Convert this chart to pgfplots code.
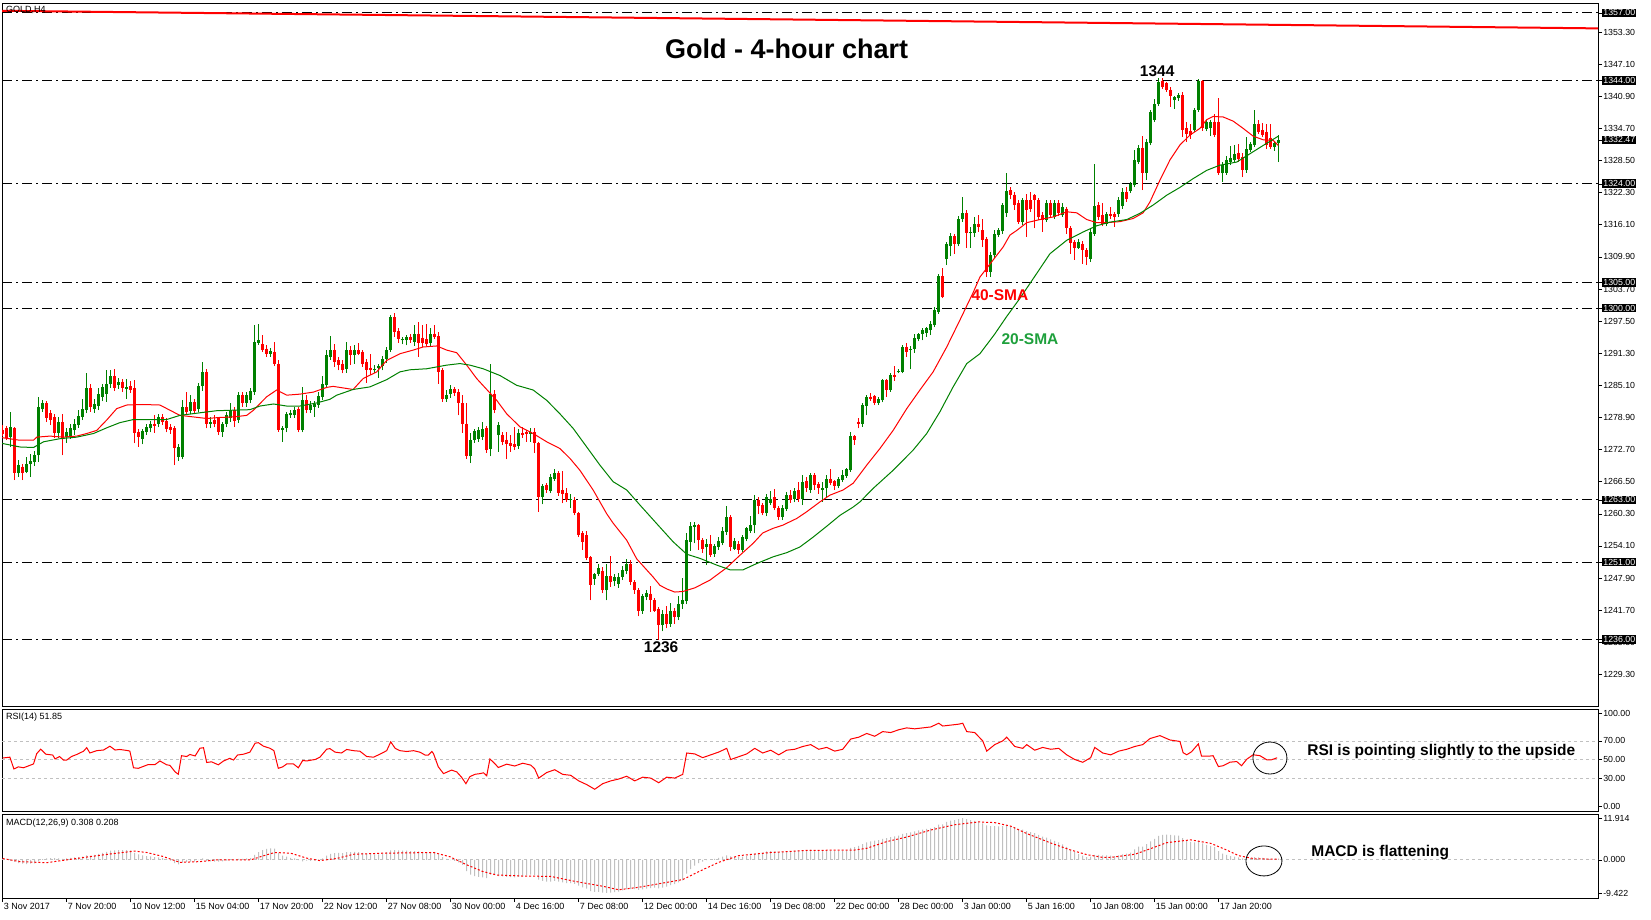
\documentclass[border=0pt]{standalone}
\usepackage{pgfplots}
\pgfplotsset{compat=1.18}
\usepackage{pgfplotstable}
\usepackage{fontspec}
\setmainfont{Liberation Sans}
\definecolor{cgreen}{RGB}{0,128,0}
\definecolor{lblgreen}{RGB}{30,160,60}
\definecolor{histgray}{RGB}{192,192,192}
\definecolor{dashgray}{RGB}{192,192,192}

\pgfplotstableread{
x o h l c
0 1276.5 1277.4 1275.3 1275.8
1 1276.9 1277.3 1274.5 1275.0
2 1275.1 1280.0 1273.2 1277.1
3 1276.9 1277.1 1266.8 1268.1
4 1268.1 1270.6 1267.4 1269.7
5 1269.4 1270.0 1266.8 1268.2
6 1268.4 1271.3 1268.1 1270.0
7 1270.0 1271.9 1267.4 1270.5
8 1270.3 1272.5 1269.5 1271.6
9 1271.6 1282.9 1270.3 1281.0
10 1280.6 1282.2 1280.0 1281.6
11 1281.6 1282.0 1278.0 1278.7
12 1279.7 1280.3 1277.4 1278.4
13 1278.9 1279.5 1275.0 1275.9
14 1275.9 1279.0 1275.0 1278.0
15 1278.0 1279.5 1271.6 1274.8
16 1275.1 1276.9 1274.0 1276.1
17 1275.3 1277.7 1274.8 1276.9
18 1276.4 1278.6 1275.6 1277.7
19 1277.4 1280.3 1276.9 1279.2
20 1279.0 1282.5 1278.4 1280.6
21 1280.3 1287.4 1279.7 1284.5
22 1284.6 1285.4 1280.0 1280.9
23 1280.5 1282.5 1279.8 1281.4
24 1281.1 1284.5 1280.3 1283.5
25 1282.9 1285.4 1282.0 1284.7
26 1283.5 1288.0 1281.9 1285.4
27 1285.3 1288.0 1284.6 1286.9
28 1286.9 1288.3 1284.0 1284.5
29 1285.1 1286.6 1284.4 1285.8
30 1285.8 1286.4 1283.8 1284.5
31 1284.4 1286.4 1282.5 1284.8
32 1284.9 1286.0 1283.6 1284.2
33 1284.6 1286.1 1273.9 1275.9
34 1276.1 1276.6 1273.2 1275.2
35 1274.8 1276.7 1273.7 1276.2
36 1276.1 1277.6 1275.6 1277.1
37 1276.8 1278.3 1276.0 1277.6
38 1277.7 1279.3 1275.9 1277.2
39 1277.7 1279.6 1277.0 1278.9
40 1279.0 1279.6 1277.4 1278.0
41 1278.2 1278.8 1276.0 1276.6
42 1277.1 1277.6 1275.8 1276.4
43 1276.8 1277.3 1269.7 1273.0
44 1271.3 1273.8 1270.5 1273.2
45 1271.3 1282.2 1270.8 1280.9
46 1280.9 1283.8 1279.3 1280.0
47 1280.2 1283.2 1279.5 1281.8
48 1281.8 1282.5 1279.5 1280.2
49 1280.6 1285.5 1280.0 1284.9
50 1284.9 1289.6 1284.0 1287.7
51 1287.7 1288.3 1276.8 1277.6
52 1277.6 1279.0 1276.8 1278.0
53 1278.5 1279.3 1277.0 1277.7
54 1278.7 1279.0 1275.5 1276.1
55 1276.1 1278.1 1275.2 1277.7
56 1277.7 1280.0 1277.0 1279.3
57 1278.7 1281.7 1278.1 1280.3
58 1280.3 1280.9 1277.1 1278.2
59 1278.4 1283.8 1277.8 1283.2
60 1283.3 1283.8 1281.0 1281.6
61 1281.7 1283.8 1281.0 1283.2
62 1282.2 1284.6 1281.6 1284.0
63 1283.8 1296.7 1283.3 1293.5
64 1293.3 1296.9 1292.9 1293.9
65 1293.0 1294.8 1291.5 1292.0
66 1292.2 1292.8 1290.6 1291.2
67 1291.2 1292.3 1290.6 1291.7
68 1291.6 1293.5 1288.8 1289.3
69 1289.3 1290.0 1276.1 1276.4
70 1276.5 1277.2 1274.2 1276.8
71 1276.8 1280.0 1276.0 1279.5
72 1279.3 1280.3 1278.8 1279.8
73 1279.3 1281.0 1278.8 1280.3
74 1280.6 1281.0 1276.0 1276.4
75 1276.4 1284.7 1276.0 1282.2
76 1282.3 1283.2 1279.7 1280.3
77 1280.4 1282.0 1279.8 1281.3
78 1281.0 1282.0 1279.0 1281.5
79 1281.3 1283.8 1280.8 1283.1
80 1282.9 1286.9 1282.3 1285.4
81 1285.1 1292.0 1284.6 1290.9
82 1290.6 1294.6 1290.0 1291.9
83 1292.0 1293.0 1288.6 1289.6
84 1289.9 1290.5 1288.0 1289.0
85 1289.3 1290.0 1287.4 1288.1
86 1288.3 1293.5 1287.5 1291.9
87 1291.9 1292.6 1289.0 1290.9
88 1291.0 1292.8 1289.3 1291.9
89 1291.9 1293.3 1290.9 1291.2
90 1291.6 1292.0 1288.7 1289.3
91 1289.6 1290.2 1285.6 1288.0
92 1288.5 1291.2 1287.0 1288.0
93 1288.0 1289.0 1287.5 1288.2
94 1288.5 1289.3 1286.6 1288.9
95 1288.8 1290.8 1288.0 1290.1
96 1290.1 1292.5 1289.5 1292.0
97 1292.0 1298.6 1291.5 1298.2
98 1298.2 1299.1 1294.5 1295.4
99 1295.6 1296.1 1293.3 1294.1
100 1293.8 1294.5 1293.0 1294.0
101 1293.8 1294.8 1292.8 1294.5
102 1294.5 1295.0 1293.3 1293.8
103 1293.5 1296.7 1292.7 1295.1
104 1295.1 1297.3 1290.6 1293.3
105 1294.3 1296.7 1292.5 1293.3
106 1294.0 1297.0 1292.6 1293.0
107 1293.2 1296.1 1292.6 1295.0
108 1295.1 1296.7 1294.0 1294.5
109 1294.6 1295.4 1285.4 1287.7
110 1288.0 1288.5 1281.9 1282.5
111 1282.4 1284.2 1281.9 1283.3
112 1283.4 1285.1 1282.7 1284.4
113 1284.4 1284.7 1283.0 1283.6
114 1283.8 1284.4 1279.3 1281.6
115 1281.6 1283.2 1275.9 1277.7
116 1277.7 1281.6 1270.9 1271.4
117 1271.4 1275.9 1270.1 1274.6
118 1274.6 1276.6 1274.0 1276.2
119 1274.8 1277.0 1274.2 1276.4
120 1275.2 1278.0 1274.5 1276.6
121 1276.8 1277.2 1272.1 1272.6
122 1272.9 1289.2 1271.4 1283.5
123 1283.5 1284.2 1279.7 1280.3
124 1275.5 1278.0 1272.3 1277.5
125 1275.5 1276.0 1273.5 1274.2
126 1274.6 1276.0 1270.8 1273.8
127 1273.9 1275.6 1272.3 1273.3
128 1273.7 1277.1 1272.6 1273.2
129 1273.4 1276.6 1272.8 1275.9
130 1275.9 1277.1 1275.0 1275.6
131 1276.0 1276.4 1274.2 1275.8
132 1275.8 1276.8 1274.2 1276.1
133 1276.1 1276.8 1272.0 1273.9
134 1273.9 1274.2 1260.7 1263.6
135 1263.6 1266.1 1262.1 1265.6
136 1265.8 1266.3 1264.3 1264.9
137 1264.7 1268.0 1264.3 1267.4
138 1267.1 1269.0 1266.6 1268.1
139 1268.1 1268.6 1263.8 1264.3
140 1264.8 1268.6 1262.3 1264.1
141 1264.3 1265.2 1262.6 1262.9
142 1262.9 1264.2 1261.5 1263.2
143 1262.9 1263.5 1260.0 1260.4
144 1260.4 1260.7 1255.8 1256.2
145 1256.5 1257.0 1253.4 1254.9
146 1256.2 1256.9 1251.3 1251.7
147 1251.9 1252.1 1243.6 1246.5
148 1247.8 1248.8 1246.6 1248.6
149 1248.7 1250.6 1248.3 1249.9
150 1249.3 1250.0 1245.0 1245.5
151 1245.5 1250.7 1243.6 1248.3
152 1248.3 1252.1 1246.2 1247.1
153 1247.3 1248.7 1246.3 1248.1
154 1246.8 1248.9 1246.0 1248.1
155 1248.1 1250.3 1247.5 1249.5
156 1249.3 1251.5 1248.6 1250.7
157 1250.7 1251.3 1246.6 1247.1
158 1247.1 1247.5 1244.9 1245.5
159 1245.6 1246.0 1240.5 1241.6
160 1241.6 1244.9 1241.0 1244.4
161 1244.2 1245.5 1243.6 1245.0
162 1244.9 1246.3 1241.4 1243.6
163 1243.7 1244.0 1241.4 1241.5
164 1242.0 1242.3 1236.0 1238.8
165 1238.8 1241.8 1237.6 1241.0
166 1241.0 1242.5 1238.2 1239.0
167 1239.0 1243.0 1238.5 1241.6
168 1241.6 1242.2 1239.1 1240.3
169 1240.3 1244.5 1239.8 1242.8
170 1242.8 1248.0 1242.0 1243.6
171 1243.4 1256.5 1242.8 1255.3
172 1254.9 1258.7 1253.2 1257.9
173 1257.8 1258.7 1254.6 1258.1
174 1258.1 1258.4 1253.4 1255.2
175 1255.3 1255.6 1252.8 1253.6
176 1253.8 1255.5 1250.4 1254.4
177 1254.4 1256.3 1252.0 1252.3
178 1252.6 1254.5 1252.0 1254.0
179 1253.9 1255.8 1253.4 1255.0
180 1254.7 1257.8 1254.2 1257.0
181 1256.8 1261.8 1256.3 1259.6
182 1259.7 1260.0 1253.2 1253.8
183 1253.6 1255.6 1253.4 1255.0
184 1254.4 1255.0 1252.6 1253.3
185 1253.4 1256.2 1253.0 1255.8
186 1255.5 1257.8 1255.0 1257.5
187 1257.0 1259.8 1256.6 1258.1
188 1258.1 1263.9 1256.5 1263.0
189 1262.9 1263.6 1260.2 1261.8
190 1262.0 1262.3 1260.0 1260.4
191 1260.4 1264.2 1259.8 1263.6
192 1262.4 1264.7 1262.0 1263.1
193 1263.5 1265.1 1261.0 1261.5
194 1261.5 1261.8 1259.1 1259.6
195 1259.7 1262.0 1259.1 1261.4
196 1261.3 1264.5 1260.8 1263.9
197 1263.9 1264.9 1262.4 1262.9
198 1263.1 1265.2 1262.5 1264.7
199 1264.8 1266.5 1262.6 1263.1
200 1263.1 1267.8 1262.0 1266.5
201 1266.7 1267.5 1264.5 1265.2
202 1264.9 1268.2 1264.3 1267.8
203 1267.8 1268.2 1264.9 1265.8
204 1266.1 1266.4 1264.2 1265.3
205 1264.9 1266.5 1262.6 1265.2
206 1265.2 1267.8 1263.3 1267.1
207 1267.1 1268.9 1265.8 1266.2
208 1266.7 1266.9 1264.9 1265.6
209 1265.6 1267.5 1265.2 1267.1
210 1266.8 1268.8 1266.4 1267.7
211 1267.6 1269.1 1267.3 1268.9
212 1268.7 1276.1 1268.4 1275.3
213 1275.3 1275.5 1273.6 1274.6
214 1278.1 1278.7 1276.8 1277.7
215 1277.6 1281.7 1277.1 1281.3
216 1281.1 1283.2 1279.3 1282.9
217 1282.9 1283.7 1282.1 1282.4
218 1283.0 1283.2 1281.3 1281.6
219 1281.7 1282.9 1281.3 1282.4
220 1282.2 1286.4 1281.8 1286.1
221 1286.1 1286.4 1282.9 1284.2
222 1284.2 1287.4 1283.9 1287.1
223 1287.1 1288.8 1286.0 1286.7
224 1287.6 1288.3 1287.4 1287.9
225 1287.7 1292.8 1287.4 1292.5
226 1292.5 1293.2 1290.6 1291.6
227 1292.0 1292.6 1288.2 1292.2
228 1292.2 1295.0 1291.4 1294.2
229 1294.0 1295.2 1293.6 1295.0
230 1295.0 1296.1 1293.8 1295.7
231 1295.2 1296.4 1294.5 1296.1
232 1295.7 1297.5 1294.8 1297.0
233 1296.7 1300.2 1296.3 1299.6
234 1299.3 1306.6 1298.9 1306.2
235 1306.2 1307.7 1301.9 1302.2
236 1309.4 1312.8 1308.3 1312.3
237 1312.0 1314.5 1310.0 1313.9
238 1313.9 1314.3 1310.5 1312.3
239 1312.3 1317.7 1311.9 1317.3
240 1317.3 1321.5 1316.7 1318.4
241 1318.4 1318.9 1311.7 1314.5
242 1314.5 1315.7 1311.7 1314.7
243 1314.5 1317.6 1313.7 1316.3
244 1316.3 1317.9 1314.7 1315.7
245 1315.0 1317.3 1311.8 1313.1
246 1313.4 1313.8 1306.0 1307.0
247 1307.0 1310.9 1306.0 1310.2
248 1310.2 1315.0 1309.6 1314.4
249 1314.2 1315.4 1313.7 1315.0
250 1314.8 1320.3 1314.3 1319.9
251 1318.3 1326.0 1317.6 1322.6
252 1322.8 1323.4 1321.0 1321.8
253 1321.9 1322.5 1319.0 1319.9
254 1320.3 1320.8 1316.3 1316.6
255 1316.6 1321.2 1316.0 1320.8
256 1320.8 1322.1 1313.8 1318.9
257 1320.8 1322.4 1318.6 1319.2
258 1321.8 1322.1 1315.4 1320.8
259 1320.8 1321.2 1317.0 1317.6
260 1317.9 1318.5 1314.7 1317.1
261 1317.1 1320.8 1316.6 1320.2
262 1320.2 1320.8 1317.6 1318.0
263 1317.6 1320.8 1317.2 1320.3
264 1320.3 1320.8 1317.8 1318.3
265 1317.9 1320.2 1317.6 1319.5
266 1319.2 1319.6 1314.4 1315.4
267 1315.4 1315.8 1310.5 1312.6
268 1312.8 1313.2 1309.3 1311.7
269 1311.7 1313.3 1311.5 1312.8
270 1312.4 1312.9 1308.6 1311.2
271 1311.2 1311.6 1308.3 1309.8
272 1309.5 1315.2 1308.9 1314.7
273 1314.4 1327.9 1314.0 1319.7
274 1319.9 1320.5 1317.0 1317.6
275 1317.9 1320.2 1315.8 1316.3
276 1316.3 1318.6 1315.8 1318.1
277 1318.1 1319.5 1317.2 1317.7
278 1318.1 1318.5 1315.7 1317.5
279 1318.1 1321.5 1317.6 1320.8
280 1319.7 1323.1 1319.2 1322.4
281 1322.4 1323.4 1320.5 1321.0
282 1322.6 1324.4 1322.2 1323.9
283 1323.7 1330.5 1323.3 1328.6
284 1328.2 1331.5 1327.8 1331.0
285 1331.0 1333.2 1322.8 1326.0
286 1326.0 1332.6 1324.7 1332.1
287 1331.8 1338.3 1331.4 1337.8
288 1336.3 1340.3 1335.9 1339.5
289 1339.4 1344.5 1339.0 1343.7
290 1343.9 1344.5 1342.3 1342.7
291 1343.4 1343.7 1341.8 1342.2
292 1342.2 1342.6 1338.9 1340.9
293 1340.1 1341.0 1338.5 1340.7
294 1340.5 1341.6 1340.0 1341.2
295 1341.1 1341.7 1333.0 1334.3
296 1334.7 1336.0 1332.1 1333.6
297 1334.2 1335.5 1332.7 1333.5
298 1334.3 1338.6 1334.0 1338.3
299 1338.3 1344.2 1337.9 1343.9
300 1343.9 1344.0 1334.2 1334.7
301 1334.5 1336.4 1334.1 1336.0
302 1334.7 1336.3 1333.2 1336.0
303 1336.0 1337.4 1333.1 1333.4
304 1336.0 1340.5 1325.7 1326.0
305 1326.0 1328.2 1324.4 1327.6
306 1326.1 1329.3 1325.7 1328.6
307 1328.2 1331.3 1327.6 1328.9
308 1328.6 1331.5 1328.2 1329.8
309 1330.0 1331.7 1328.3 1328.7
310 1329.2 1330.0 1325.3 1326.6
311 1326.6 1333.1 1326.1 1330.8
312 1330.6 1332.0 1330.2 1331.6
313 1331.5 1338.2 1331.1 1335.6
314 1335.6 1336.3 1333.6 1334.0
315 1334.3 1335.8 1333.0 1333.4
316 1334.0 1335.6 1330.8 1331.5
317 1332.9 1335.6 1330.7 1331.1
318 1331.1 1332.3 1330.4 1331.8
319 1331.8 1333.4 1328.2 1332.5
}\candles

\pgfplotstableread{
x v
0 0.3
1 0.02
2 -0.3
3 -0.6
4 -0.9
5 -1.1
6 -1.2
7 -1.1
8 -1.0
9 -0.4
10 0.2
11 0.4
12 0.5
13 0.5
14 0.4
15 0.3
16 0.4
17 0.6
18 0.7
19 0.8
20 0.9
21 1.3
22 1.2
23 1.4
24 1.7
25 2.0
26 2.3
27 2.6
28 2.7
29 2.8
30 2.8
31 2.8
32 2.7
33 2.0
34 1.6
35 1.3
36 1.1
37 1.0
38 0.8
39 0.7
40 0.5
41 0.2
42 -0.2
43 -0.9
44 -1.3
45 -0.8
46 -0.6
47 -0.5
48 -0.5
49 -0.1
50 0.4
51 -0.3
52 -0.4
53 -0.5
54 -0.5
55 -0.4
56 -0.2
57 0.05
58 -0.1
59 0.3
60 0.3
61 0.4
62 0.5
63 1.4
64 2.2
65 2.8
66 3.1
67 3.3
68 3.2
69 2.0
70 1.2
71 0.9
72 0.6
73 0.4
74 -0.1
75 -0.4
76 -0.2
77 -0.3
78 -0.2
79 0.05
80 0.4
81 1.2
82 1.7
83 1.9
84 2.0
85 1.9
86 2.2
87 2.2
88 2.3
89 2.2
90 2.0
91 1.8
92 1.7
93 1.6
94 1.6
95 1.8
96 2.2
97 2.7
98 2.8
99 2.7
100 2.6
101 2.6
102 2.5
103 2.5
104 2.4
105 2.3
106 2.2
107 2.3
108 2.3
109 1.6
110 0.8
111 0.3
112 -0.1
113 -0.3
114 -0.7
115 -1.4
116 -3.2
117 -4.2
118 -4.6
119 -4.8
120 -5.0
121 -5.2
122 -4.2
123 -4.3
124 -4.6
125 -4.7
126 -4.8
127 -4.9
128 -5.0
129 -4.8
130 -4.6
131 -4.4
132 -4.2
133 -4.3
134 -5.6
135 -6.0
136 -6.2
137 -6.2
138 -6.0
139 -6.2
140 -6.4
141 -6.6
142 -6.6
143 -6.8
144 -7.3
145 -7.8
146 -8.2
147 -8.9
148 -9.1
149 -9.1
150 -9.3
151 -9.4
152 -9.3
153 -9.2
154 -9.0
155 -8.7
156 -8.4
157 -8.3
158 -8.3
159 -8.5
160 -8.4
161 -8.2
162 -8.0
163 -7.9
164 -8.1
165 -7.9
166 -7.6
167 -7.2
168 -6.9
169 -6.4
170 -5.8
171 -3.9
172 -2.6
173 -1.6
174 -0.9
175 -0.5
176 -0.1
177 0.1
178 0.3
179 0.6
180 0.9
181 1.3
182 1.0
183 0.9
184 0.8
185 0.9
186 1.1
187 1.3
188 1.8
189 2.0
190 2.1
191 2.4
192 2.5
193 2.4
194 2.2
195 2.3
196 2.5
197 2.5
198 2.6
199 2.6
200 2.8
201 2.8
202 2.9
203 2.8
204 2.7
205 2.6
206 2.7
207 2.6
208 2.5
209 2.5
210 2.5
211 2.6
212 3.4
213 3.6
214 4.0
215 4.5
216 5.0
217 5.3
218 5.5
219 5.6
220 6.0
221 6.2
222 6.5
223 6.7
224 6.9
225 7.4
226 7.6
227 7.8
228 8.1
229 8.4
230 8.6
231 8.8
232 9.0
233 9.3
234 10.0
235 10.1
236 10.8
237 11.2
238 11.3
239 11.6
240 11.9
241 11.6
242 11.3
243 11.1
244 10.8
245 10.4
246 9.8
247 9.6
248 9.6
249 9.5
250 9.6
251 9.8
252 9.6
253 9.3
254 8.8
255 8.6
256 8.2
257 7.9
258 7.6
259 7.1
260 6.6
261 6.3
262 5.8
263 5.4
264 5.0
265 4.4
266 3.7
267 2.9
268 2.2
269 1.7
270 1.2
271 0.8
272 0.9
273 1.4
274 1.4
275 1.3
276 1.3
277 1.2
278 1.1
279 1.3
280 1.6
281 1.8
282 2.1
283 3.0
284 3.8
285 3.8
286 4.5
287 5.3
288 6.0
289 6.8
290 7.1
291 7.2
292 7.1
293 7.0
294 6.9
295 6.2
296 5.6
297 5.1
298 5.0
299 5.4
300 4.7
301 4.3
302 4.0
303 3.6
304 2.5
305 1.8
306 1.4
307 1.1
308 0.9
309 0.7
310 0.4
311 0.5
312 0.5
313 0.8
314 0.7
315 0.6
316 0.4
317 0.3
318 0.3
319 0.3
}\macdhist

\pgfplotsset{
  mtbase/.style={
    scale only axis, width=1596pt,
    xmin=-0.175, xmax=398.825,
    axis line style={line width=0.8pt},
    tick align=outside, ytick pos=right, yticklabel pos=right,
    major tick length=4pt,
    tick style={black, line width=0.6pt},
    yticklabel style={font=\fontsize{8.8}{10}\selectfont, inner sep=1pt},
    xticklabel style={font=\fontsize{9}{10}\selectfont},
  },
  lvl/.style={black, line width=0.9pt, dash pattern=on 10pt off 4pt on 2pt off 4pt},
  gline/.style={dashgray, line width=0.8pt, dash pattern=on 3pt off 3pt},
}

\begin{document}
\begin{tikzpicture}
\path[use as bounding box] (0pt,0pt) rectangle (1651pt,-919pt);

% ---------------- main price panel ----------------
\begin{axis}[mtbase, at={(2pt,-3pt)}, anchor=north west, height=703pt,
  ymin=1223.2, ymax=1358.9, xtick=\empty,
  ytick={1229.3,1235.5,1241.7,1247.9,1254.1,1260.3,1266.5,1272.7,1278.9,1285.1,1291.3,1297.5,1303.7,1309.9,1316.1,1322.3,1328.5,1334.7,1340.9,1347.1,1353.3},
  yticklabels={1229.30,1235.50,1241.70,1247.90,1254.10,1260.30,1266.50,1272.70,1278.90,1285.10,1291.30,1297.50,1303.70,1309.90,1316.10,1322.30,1328.50,1334.70,1340.90,1347.10,1353.30},
  extra y ticks={1357,1344,1332.47,1324,1305,1300,1263,1251,1236},
  extra y tick labels={1357.00,1344.00,1332.47,1324.00,1305.00,1300.00,1263.00,1251.00,1236.00},
  extra y tick style={yticklabel style={fill=black, text=white, inner sep=1.2pt}},
  colormap={candles}{rgb255=(255,0,0) rgb255=(0,128,0)},
  point meta min=0, point meta max=1,
]
\pgfplotsinvokeforeach{1357,1344,1324,1305,1300,1263,1251,1236}{
  \addplot[lvl] coordinates {(-0.175,#1) (398.825,#1)};
}
\addplot[red, line width=2pt] coordinates {(-0.175,1357.4) (398.825,1354.0)};

% candles: wicks then bodies
\addplot[point meta={\thisrow{c}>\thisrow{o}},
  quiver={u=0, v={\thisrow{h}-\thisrow{l}}, colored=mapped color,
          every arrow/.append style={line width=1pt}}]
  table[x=x, y=l] {\candles};
\addplot[point meta={\thisrow{c}>\thisrow{o}},
  quiver={u=0, v={\thisrow{c}-\thisrow{o}}, colored=mapped color,
          every arrow/.append style={line width=3pt}}]
  table[x=x, y=o] {\candles};

% fast SMA (red)
\addplot[red, line width=1pt] coordinates {
(-0.2,1275.0) (4.3,1274.5) (7.7,1274.5) (8.5,1275.1) (11.8,1275.3) (15.2,1275.1) (18.5,1275.3) (21,1275.8) (23.5,1276.4) (26,1278.4) (28.5,1280.6) (31,1281.3) (35,1281.4) (39.3,1281.3) (41.8,1280.3) (44.3,1279.3) (47.7,1279.0) (51,1278.7) (54.3,1278.9) (57.7,1279.0) (61,1279.3) (62.7,1280.3) (66,1282.9) (68.5,1284.2) (71,1283.2) (74.3,1283.4) (77.7,1283.8) (81,1284.7) (82.6,1284.9) (87.6,1284.3) (90.1,1286.4) (93.5,1287.7) (96,1289.9) (99.3,1291.2) (102.6,1291.9) (105.1,1292.5) (108.5,1292.7) (111,1291.9) (113.5,1291.4) (116,1289.0) (118.5,1286.4) (121,1284.3) (123.5,1282.2) (126,1279.6) (129.3,1277.1) (132.6,1275.8) (136,1274.2) (139.3,1272.9) (141.8,1271.0) (144.3,1268.7) (147.6,1264.9) (151,1260.3) (152.6,1258.5) (156,1255.2) (158.5,1251.6) (162.6,1248.1) (164.3,1246.5) (166,1245.8) (168,1245.2) (170,1245.3) (173,1246.0) (176.8,1247.5) (181,1249.9) (184.3,1252.3) (187.6,1254.6) (190,1256.6) (192.6,1257.5) (195,1258.1) (198.5,1259.4) (201,1260.7) (204.3,1262.6) (206.8,1263.9) (210.1,1264.9) (212.6,1266.2) (216,1269.7) (219.3,1272.9) (222.6,1276.4) (226,1280.6) (229.3,1284.2) (232.6,1287.7) (236,1292.5) (239.3,1297.7) (242.6,1303.0) (244.3,1306.0) (247.6,1309.3) (250.1,1311.8) (251.8,1314.1) (253.5,1315.0) (256,1316.5) (259.3,1317.1) (262.6,1317.6) (266,1318.6) (268.5,1318.4) (271,1317.1) (273.5,1316.5) (276,1316.5) (279.3,1316.7) (282.6,1317.3) (285.1,1318.4) (286.8,1320.5) (289.3,1324.7) (291.8,1328.6) (294.3,1331.5) (296.8,1333.4) (299.3,1334.7) (301,1336.4) (302.6,1337.0) (305.1,1336.9) (307.6,1336.1) (310.1,1334.7) (312.6,1333.2) (315.1,1332.5) (317.6,1332.4) (318.9,1331.4)};

% slow SMA (green)
\addplot[cgreen, line width=1pt] coordinates {
(-0.2,1273.9) (4.3,1273.2) (7.7,1273.1) (10.2,1274.2) (14.3,1274.8) (18.5,1275.1) (22.7,1275.8) (26,1276.9) (29.3,1277.9) (32.7,1278.5) (36.8,1278.5) (41,1278.5) (44.3,1279.3) (49.3,1279.8) (53.5,1280.2) (57.7,1280.3) (61.8,1280.4) (64.3,1281.1) (67.7,1281.5) (71,1281.1) (74.3,1281.1) (78.5,1281.7) (81.8,1282.4) (83.5,1283.2) (87.6,1284.3) (91.8,1284.8) (96,1286.2) (99.3,1287.7) (101.8,1288.1) (106,1288.3) (111,1289.0) (114.3,1289.3) (116.8,1289.0) (120.1,1288.3) (124.3,1287.0) (128.5,1285.1) (132.6,1284.2) (136,1282.2) (139.3,1279.6) (142.6,1276.8) (146,1273.2) (149.3,1269.7) (152.6,1266.5) (156,1264.9) (159.3,1262.0) (163.5,1258.4) (167.6,1254.9) (171,1252.5) (174.3,1251.7) (178.5,1250.4) (181.8,1249.5) (185.1,1249.5) (188.5,1250.7) (192.6,1252.0) (196,1252.8) (199.3,1253.9) (202.6,1255.8) (206,1257.9) (209.3,1260.0) (212.6,1261.6) (214.3,1262.6) (217.6,1265.2) (222.6,1268.7) (227.6,1272.6) (231,1275.8) (234.3,1280.0) (237.6,1284.8) (241,1289.3) (244.3,1291.2) (248,1295.0) (251,1298.4) (254.3,1301.9) (258.5,1306.7) (261.8,1310.5) (266,1313.1) (270.1,1314.7) (273.5,1315.9) (276.8,1316.6) (281,1317.1) (284.3,1318.3) (287.6,1319.9) (291,1321.8) (294.3,1323.3) (297.6,1325.0) (301,1326.6) (304.3,1327.6) (308.5,1328.2) (311.8,1329.8) (315.1,1331.4) (318.9,1333.2)};

\node[font=\fontsize{9}{10}\selectfont, anchor=west, inner sep=0pt] at (axis cs:0.8,1357.5) {GOLD,H4};
\node[font=\fontsize{27}{30}\selectfont\bfseries] at (axis cs:196,1350.1) {Gold - 4-hour chart};
\node[font=\fontsize{15.5}{18}\selectfont\bfseries] at (axis cs:288.6,1345.7) {1344};
\node[font=\fontsize{15.5}{18}\selectfont\bfseries] at (axis cs:164.6,1234.6) {1236};
\node[font=\fontsize{15.5}{18}\selectfont\bfseries, text=red] at (axis cs:249.3,1302.5) {40-SMA};
\node[font=\fontsize{15.5}{18}\selectfont\bfseries, text=lblgreen] at (axis cs:256.8,1294.0) {20-SMA};
\end{axis}

% ---------------- RSI panel ----------------
\begin{axis}[mtbase, at={(2pt,-709pt)}, anchor=north west, height=102pt,
  ymin=-5.4, ymax=104.3, xtick=\empty,
  ytick={0,30,50,70,100}, yticklabels={0.00,30.00,50.00,70.00,100.00},
]
\pgfplotsinvokeforeach{30,50,70}{
  \addplot[gline] coordinates {(-0.175,#1) (398.825,#1)};
}
\addplot[red, line width=1pt] coordinates {
(0,51.6) (1.8,52.5) (2.8,39.8) (3.9,42.1) (5.2,41.1) (7.7,45.2) (8.5,56.3) (9.5,61.1) (10.8,55.7) (12.5,54.8) (13.1,50.6) (14.2,53.2) (15.2,49.4) (16,49.4) (17.2,53.2) (18.5,55.4) (20.2,58.9) (21,62.7) (21.8,57.0) (23.5,59.5) (25.2,60.2) (26.8,64.3) (28.1,60.2) (29.3,60.8) (31.4,59.5) (31.8,58.9) (32.7,41.1) (33.9,40.5) (36.4,44.6) (38.1,44.6) (39.3,48.4) (41,44.3) (41.8,43.7) (43.1,36.7) (43.9,34.1) (44.7,54.1) (46,53.2) (46.8,55.4) (48.1,53.8) (49.3,62.1) (50.2,62.7) (51,46.8) (52.2,47.5) (53.9,44.3) (55.2,48.4) (56.8,51.3) (57.7,49.4) (58.7,54.8) (60.2,55.7) (61.8,57.9) (63.1,67.5) (63.9,68.1) (65.2,64.3) (66.8,62.1) (67.8,59.5) (68.9,40.5) (70,42.1) (71,45.2) (72.7,45.2) (73.9,41.1) (75,49.0) (76,48.4) (77.2,49.4) (78.1,50.0) (79.3,52.5) (81,61.1) (81.8,61.7) (83.1,57.9) (84.7,57.0) (86,60.8) (87.7,59.5) (89.3,58.9) (91,53.2) (92.7,52.5) (94.3,55.7) (96,59.5) (97,69.0) (98.1,62.1) (99.3,59.5) (101,58.6) (102.7,59.5) (104.3,57.9) (105.6,54.8) (106.4,54.8) (107.3,58.6) (107.7,56.3) (108.9,42.1) (110.2,34.8) (112.2,38.6) (113.5,36.7) (114.7,31.0) (115.8,24.0) (116.8,31.6) (118.1,34.1) (119.3,34.8) (120.2,35.7) (121,32.5) (121.8,50.6) (123.1,45.2) (123.9,41.4)
(126,45) (128,43) (130,46) (132,44) (133,40) (134,30) (136,36) (138,39) (140,34) (142,33) (144,27) (146,23) (148,18) (150,24) (152,27) (154,29) (156,32) (158,27) (160,31) (162,30) (164,25) (166,31) (168,30) (170,34) (171,57) (173,56) (175,52) (177,55) (179,58) (181,62) (182,50) (184,53) (186,56) (188,62) (190,57) (192,60) (194,55) (196,60) (198,61) (200,64) (202,66) (204,61) (206,63) (208,59) (210,61) (212,72) (214,74) (216,78) (218,75) (220,80) (222,79) (224,82) (226,84) (228,83) (230,84) (232,85) (234,89) (235,86) (237,87) (239,88) (240,89) (241,80) (243,79) (245,70) (246,59) (248,66) (250,70) (251,74) (253,64) (255,62) (256,66) (258,60) (260,63) (262,61) (264,62) (266,55) (268,50) (270,47) (272,52) (273,63) (275,57) (277,55) (279,59) (281,61) (283,64) (285,66)
(286.8,72.5) (289.3,75.7) (291.8,71.0) (294.3,69.4) (295.1,57.3) (296,55.1) (297.2,58.3) (298.9,66.8) (299.7,53.5) (301.4,53.5) (302.6,54.1) (303.9,42.4) (305.1,43.3) (306.8,47.1) (308.5,47.8) (309.7,43.3) (311,50.3) (312.6,55.1) (314.3,54.1) (316,49.7) (317.2,49.7) (318.6,51.9)};
\node[font=\fontsize{9}{10}\selectfont, anchor=west, inner sep=0pt] at (axis cs:0.8,95.2) {RSI(14) 51.85};
\node[font=\fontsize{15.5}{18}\selectfont\bfseries, anchor=west, inner sep=0pt] at (axis cs:326.1,59.1) {RSI is pointing slightly to the upside};
\draw[black, line width=0.8pt] (axis cs:316.8,51.6) ellipse [x radius=17pt, y radius=16pt];
\end{axis}

% ---------------- MACD panel ----------------
\begin{axis}[mtbase, at={(2pt,-814pt)}, anchor=north west, height=84pt,
  ymin=-10.85, ymax=13.05,
  ytick={-9.422,0,11.914}, yticklabels={-9.422,0.000,11.914},
  xtick={0,16,...,304}, xtick pos=left, xticklabel pos=left,
  xticklabels={3 Nov 2017,7 Nov 20:00,10 Nov 12:00,15 Nov 04:00,17 Nov 20:00,22 Nov 12:00,27 Nov 08:00,30 Nov 00:00,4 Dec 16:00,7 Dec 08:00,12 Dec 00:00,14 Dec 16:00,19 Dec 08:00,22 Dec 00:00,28 Dec 00:00,3 Jan 00:00,5 Jan 16:00,10 Jan 08:00,15 Jan 00:00,17 Jan 20:00},
  xticklabel style={anchor=north west, inner sep=1pt},
]
\addplot[gline] coordinates {(-0.175,0) (398.825,0)};
\addplot[ybar, bar width=1pt, bar shift=0pt, fill=histgray, draw=none] table[x=x, y=v] {\macdhist};
\addplot[red, line width=1pt, dash pattern=on 2pt off 2pt] coordinates {
(0,0.4) (4.3,-0.5) (11,-0.8) (16,0) (21,0.8) (27,1.7) (33,2.5) (36,2.1) (40,1.0) (44.3,-0.7) (49.3,-0.5) (53.5,0) (62,0) (65,1.1) (68,2.1) (72,1.9) (76,0.5) (79.3,-0.2) (83.5,0.4) (87.7,1.6) (95,1.9) (107.7,2.1) (111.8,0.9) (116,-1.4) (120,-3.3) (123.5,-4.3) (130,-4.6) (137,-4.7) (143,-6.1) (150,-7.5) (154,-8.5) (159,-7.8) (166,-6.4) (170,-5.6) (175,-2.8) (179,-0.7) (184,1.2) (192,2.1) (201,2.7) (213,2.8) (216,3.3) (221,5.2) (226,6.5) (232,8.5) (238,10.0) (244,10.8) (248,10.6) (252,9.6) (256,7.5) (262,4.8) (267,2.8) (271,1.5) (275,0.7) (277,0.7) (283,1.6) (286,2.8) (291,4.9) (297,5.7) (302,4.7) (306,2.8) (309,1.2) (313,0.3) (319,0.2)};
\node[font=\fontsize{9}{10}\selectfont, anchor=west, inner sep=0pt] at (axis cs:0.8,10.5) {MACD(12,26,9) 0.308 0.208};
\node[font=\fontsize{15.5}{18}\selectfont\bfseries, anchor=west, inner sep=0pt] at (axis cs:327.1,2.0) {MACD is flattening};
\draw[black, line width=0.8pt] (axis cs:315.3,-0.3) ellipse [x radius=18pt, y radius=15pt];
\end{axis}
\end{tikzpicture}
\end{document}
